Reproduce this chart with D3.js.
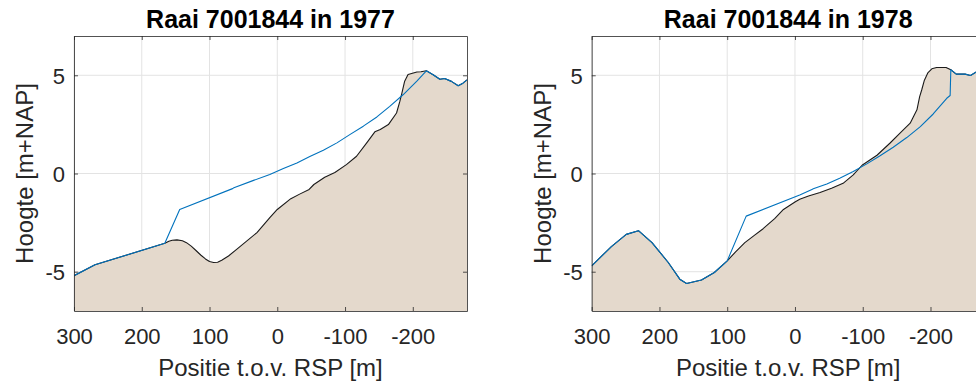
<!DOCTYPE html>
<html>
<head>
<meta charset="utf-8">
<script src="https://cdn.jsdelivr.net/npm/d3@7"></script>
<style>
  html, body { margin: 0; padding: 0; background: #fff; }
  svg { display: block; font-family: "Liberation Sans", Arial, sans-serif; }
</style>
</head>
<body>
<svg id="chart" width="976" height="385"></svg>
<script>
// ticks
const xTicks = [300, 200, 100, 0, -100, -200];
const yTicks = [-5, 0, 5];
const titles = ['Raai 7001844 in 1977', 'Raai 7001844 in 1978'];

// gemeten profiel (zwart) en voorspeld profiel (blauw), [positie, hoogte]
const bed1977 = [[300,-5.2],[269,-4.65],[166,-3.55],[160,-3.45],[155,-3.4],[148,-3.38],[140,-3.42],[134,-3.52],[127,-3.7],[120,-3.92],[113,-4.15],[106,-4.35],[100,-4.48],[94,-4.53],[88,-4.52],[82,-4.42],[72,-4.2],[60,-3.86],[30,-3.01],[11,-2.25],[0,-1.83],[-20,-1.28],[-33,-1.05],[-47,-0.81],[-54,-0.56],[-70,-0.19],[-85,0.05],[-102,0.45],[-117,0.88],[-132,1.56],[-144,2.12],[-152,2.24],[-164,2.49],[-176,3.08],[-181,3.68],[-184,4.1],[-188,4.7],[-193,5.04],[-206,5.17],[-212,5.18],[-220,5.23],[-230,5.03],[-240,4.8],[-247,4.84],[-257,4.69],[-267,4.47],[-274,4.6],[-280,4.77]];
const fit1977 = [[300,-5.2],[269,-4.65],[166,-3.55],[144,-1.83],[66,-0.77],[64,-0.73],[35,-0.35],[11,-0.05],[-9,0.25],[-29,0.54],[-48,0.86],[-68,1.18],[-88,1.56],[-107,1.98],[-127,2.41],[-147,2.88],[-166,3.42],[-186,4.02],[-206,4.7],[-220,5.23],[-230,5.03],[-240,4.8],[-247,4.84],[-257,4.69],[-267,4.47],[-274,4.6],[-280,4.77]];

const bed1978 = [[300,-4.7],[271,-3.72],[249,-3.1],[231,-2.91],[211,-3.52],[187,-4.53],[170,-5.38],[160,-5.6],[138,-5.42],[119,-5.04],[100,-4.45],[88,-4.0],[74,-3.52],[60,-3.15],[47,-2.81],[30,-2.3],[17,-1.83],[0,-1.45],[-7,-1.31],[-20,-1.15],[-37,-0.97],[-54,-0.75],[-71,-0.5],[-86,-0.07],[-99,0.42],[-121,0.93],[-140,1.54],[-155,2.05],[-170,2.56],[-180,3.24],[-184,3.91],[-187,4.25],[-191,4.75],[-196,5.12],[-202,5.33],[-209,5.4],[-223,5.4],[-230,5.28],[-238,5.06],[-251,5.06],[-259,4.99],[-267,5.16],[-280,5.2]];
const fit1978 = [[300,-4.7],[271,-3.72],[249,-3.1],[231,-2.91],[211,-3.52],[187,-4.53],[170,-5.38],[160,-5.6],[138,-5.42],[119,-5.04],[100,-4.45],[72,-2.17],[-7,-1.09],[-25,-0.81],[-27,-0.78],[-47,-0.53],[-66,-0.24],[-86,0.1],[-106,0.49],[-125,0.89],[-145,1.34],[-165,1.83],[-185,2.39],[-204,3.03],[-224,3.83],[-229,3.97],[-230,5.28],[-238,5.06],[-251,5.06],[-259,4.99],[-267,5.16],[-280,5.2]];

const svg = d3.select('#chart');
const plotTop = 36, plotBottom = 311;
const y = d3.scaleLinear().domain([-7, 7]).range([plotBottom, plotTop]);

function panel(idx, left, bed, fit){
  const right = left + 393;
  const x = d3.scaleLinear().domain([300, -280]).range([left, right]);
  const g = svg.append('g');
  const clipId = 'clip' + idx;
  g.append('clipPath').attr('id', clipId).append('rect')
    .attr('x', left).attr('y', plotTop).attr('width', right - left).attr('height', plotBottom - plotTop);

  // grid
  g.append('g').selectAll('line').data(xTicks).join('line')
    .attr('x1', d => x(d)).attr('x2', d => x(d)).attr('y1', plotTop).attr('y2', plotBottom)
    .attr('stroke', '#e3e3e3').attr('stroke-width', 1);
  g.append('g').selectAll('line').data(yTicks).join('line')
    .attr('x1', left).attr('x2', right).attr('y1', d => y(d)).attr('y2', d => y(d))
    .attr('stroke', '#e3e3e3').attr('stroke-width', 1);

  const plot = g.append('g').attr('clip-path', `url(#${clipId})`);
  const line = d3.line().x(d => x(d[0])).y(d => y(d[1]));
  const area = d3.area().x(d => x(d[0])).y0(y(-7)).y1(d => y(d[1]));
  plot.append('path').datum(bed).attr('d', area).attr('fill', '#e4d9cc');
  plot.append('path').datum(bed).attr('d', line)
    .attr('fill', 'none').attr('stroke', '#1a1a1a').attr('stroke-width', 1.1).attr('stroke-linejoin', 'round');
  plot.append('path').datum(fit).attr('d', line)
    .attr('fill', 'none').attr('stroke', '#0072BD').attr('stroke-width', 1.1).attr('stroke-linejoin', 'round');

  // axes (ticks inward, box)
  const style = a => {
    a.select('.domain').attr('stroke', '#262626').attr('stroke-width', 0.8);
    a.selectAll('.tick line').attr('stroke', '#262626').attr('stroke-width', 0.8);
    a.selectAll('text').attr('fill', '#262626').attr('font-size', 22).attr('font-family', '"Liberation Sans", Arial, sans-serif');
  };
  const fmt = d => String(d);
  const xb = g.append('g').attr('transform', `translate(0,${plotBottom})`)
    .call(d3.axisBottom(x).tickValues(xTicks).tickSize(-4).tickSizeOuter(0).tickFormat(fmt));
  style(xb);
  xb.selectAll('text').attr('dy', null).attr('y', 33);
  const xt = g.append('g').attr('transform', `translate(0,${plotTop})`)
    .call(d3.axisTop(x).tickValues(xTicks).tickSize(-4).tickSizeOuter(0).tickFormat(''));
  style(xt);
  const yl = g.append('g').attr('transform', `translate(${left},0)`)
    .call(d3.axisLeft(y).tickValues(yTicks).tickSize(-4).tickSizeOuter(0).tickFormat(fmt));
  style(yl);
  yl.selectAll('text').attr('x', -9).attr('dy', '0.36em');
  const yr = g.append('g').attr('transform', `translate(${right},0)`)
    .call(d3.axisRight(y).tickValues(yTicks).tickSize(-4).tickSizeOuter(0).tickFormat(''));
  style(yr);

  const cx = (left + right) / 2;
  g.append('text').attr('x', cx).attr('y', 28).attr('text-anchor', 'middle')
    .attr('font-size', 25).attr('font-weight', 'bold').attr('fill', '#000').text(titles[idx]);
  g.append('text').attr('x', cx).attr('y', 376).attr('text-anchor', 'middle')
    .attr('font-size', 24).attr('fill', '#262626').text('Positie t.o.v. RSP [m]');
  g.append('text').attr('transform', `translate(${left - 41},${(plotTop + plotBottom) / 2}) rotate(-90)`)
    .attr('text-anchor', 'middle').attr('font-size', 24).attr('fill', '#262626').text('Hoogte [m+NAP]');
}

panel(0, 74, bed1977, fit1977);
panel(1, 591.7, bed1978, fit1978);
</script>
</body>
</html>
